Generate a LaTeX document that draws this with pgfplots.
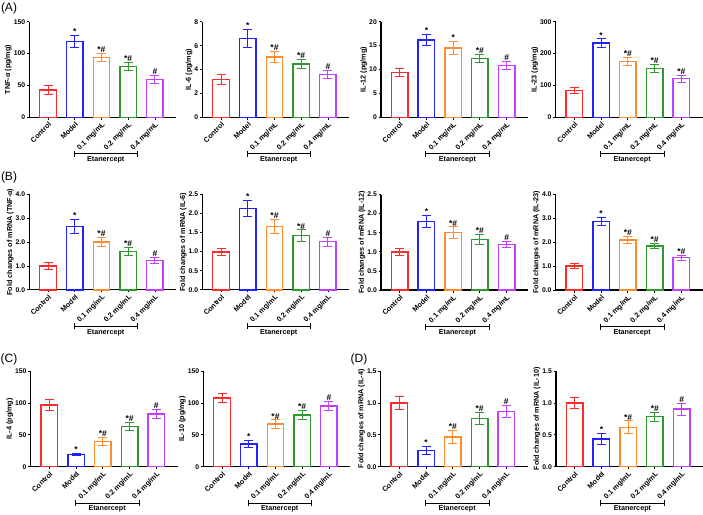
\documentclass[border=0pt]{standalone}
\usepackage{fontspec}
\setmainfont{Liberation Sans}
\usepackage{pgfplots}
\usepackage{pgfplotstable}
\pgfplotsset{compat=1.18}

\definecolor{c0}{HTML}{FF2B2B}
\definecolor{c1}{HTML}{2222FF}
\definecolor{c2}{HTML}{FF8C2E}
\definecolor{c3}{HTML}{2E9A2E}
\definecolor{c4}{HTML}{C040FF}

\newcommand\lab{\fontsize{7.2}{8}\selectfont\bfseries}
\newcommand\num{\fontsize{6.8}{8}\selectfont\bfseries}
\newcommand\sigfont{\fontsize{8.5}{9}\selectfont\bfseries}
% significance codes: N none, A *, B *#, C #
\newcommand\sigN{}
\newcommand\sigA{*}
\newcommand\sigB{*\#}
\newcommand\sigC{\#}

% columns: group, mean, error, significance
\pgfplotstableread{
x y e s
0 43 7 N
1 119 9.5 A
2 94 6 B
3 80 6.5 B
4 59 6.5 C
}\tnf
\pgfplotstableread{
x y e s
0 3.15 0.42 N
1 6.6 0.75 A
2 5.05 0.48 B
3 4.45 0.38 B
4 3.6 0.33 C
}\ilsix
\pgfplotstableread{
x y e s
0 9.4 0.8 N
1 16.2 1.1 A
2 14.5 1.4 A
3 12.35 0.9 B
4 10.9 0.85 C
}\iltwelve
\pgfplotstableread{
x y e s
0 84 10 N
1 233 13 A
2 175 13 B
3 154 12 B
4 121 11 B
}\iltwentythree
\pgfplotstableread{
x y e s
0 1.0 0.13 N
1 2.65 0.3 A
2 2.0 0.2 B
3 1.6 0.18 B
4 1.22 0.13 C
}\mtnf
\pgfplotstableread{
x y e s
0 0.99 0.09 N
1 2.13 0.22 A
2 1.66 0.19 B
3 1.42 0.15 B
4 1.26 0.12 C
}\msix
\pgfplotstableread{
x y e s
0 1.0 0.09 N
1 1.8 0.16 A
2 1.5 0.15 B
3 1.32 0.13 B
4 1.19 0.09 C
}\mtwelve
\pgfplotstableread{
x y e s
0 1.0 0.1 N
1 2.88 0.17 A
2 2.09 0.15 B
3 1.84 0.12 B
4 1.35 0.11 B
}\mtwentythree
\pgfplotstableread{
x y e s
0 97 8 N
1 19 1.5 A
2 40 6 B
3 63.5 6.5 B
4 83 7 C
}\ilfour
\pgfplotstableread{
x y e s
0 108 7 N
1 35.5 5.5 A
2 67 6.5 B
3 81 7 B
4 95.5 7 C
}\ilten
\pgfplotstableread{
x y e s
0 1.0 0.095 N
1 0.255 0.065 A
2 0.465 0.105 B
3 0.755 0.095 B
4 0.87 0.095 C
}\mfour
\pgfplotstableread{
x y e s
0 1.0 0.088 N
1 0.435 0.085 A
2 0.62 0.1 B
3 0.785 0.07 B
4 0.905 0.095 C
}\mten

\pgfplotsset{
  panel/.style={
    scale only axis, width=147pt, height=95.5pt, anchor=south west,
    xmin=-0.7, xmax=4.8, ymin=0,
    axis x line=bottom, axis y line=left,
    axis line style={-, line width=1.2pt},
    xtick={0,...,4},
    xticklabels={Control,Model,0.1 mg/mL,0.2 mg/mL,0.4 mg/mL},
    x tick label style={rotate=45, anchor=north east, inner sep=1pt, font=\lab},
    y tick label style={inner sep=1.5pt, font=\num},
    tick align=outside, major tick length=2.5pt,
    tick style={black, line width=0.8pt},
    label style={font=\lab},
    ylabel style={yshift=-3pt},
    /pgf/number format/assume math mode=true,
    scaled y ticks=false, clip=false,
  },
}

\newcommand\panel[7]{%
\begin{axis}[panel, at={(#1pt,-#2pt)}, ymax=#3, ytick distance=#4,
  ylabel={#5}, y tick label style={/pgf/number format/.cd, fixed, #7}]
\pgfplotsinvokeforeach{0,...,4}{
  \addplot[ybar, bar width=16.5pt, bar shift=0pt, draw=c##1, fill=white,
    line width=1.4pt,
    x filter/.expression={abs(x-##1)<0.3 ? x : nan},
    error bars/.cd, y dir=both, y explicit,
    error bar style={draw=c##1, line width=1pt},
    error mark options={rotate=90, mark size=4.5pt, line width=1pt, draw=c##1}]
    table[x=x, y=y, y error=e] {#6};
}
\addplot[only marks, mark=none, point meta=explicit symbolic,
  nodes near coords={\csname sig\pgfplotspointmeta\endcsname},
  nodes near coords style={anchor=south, inner sep=0.6pt, font=\sigfont}]
  table[x=x, y expr=\thisrow{y}+\thisrow{e}, meta=s] {#6};
\draw[line width=0.8pt] ([yshift=-36.5pt]axis cs:0.97,0) -- ([yshift=-36.5pt]axis cs:3.35,0);
\draw[line width=0.8pt] ([yshift=-33.5pt]axis cs:0.97,0) -- ([yshift=-39.5pt]axis cs:0.97,0);
\draw[line width=0.8pt] ([yshift=-33.5pt]axis cs:3.35,0) -- ([yshift=-39.5pt]axis cs:3.35,0);
\node[font=\lab, inner sep=0pt] at ([yshift=-42.5pt]axis cs:2.16,0) {Etanercept};
\end{axis}}

\begin{document}
\begin{tikzpicture}
\path[use as bounding box] (0,0) rectangle (703pt,-514pt);
\panel{29.3}{117.3}{150}{50}{TNF-α (pg/mg)}{\tnf}{precision=0}
\panel{202.3}{117.3}{8}{2}{IL-6 (pg/mg)}{\ilsix}{precision=0}
\panel{381}{117.3}{20}{5}{IL-12 (pg/mg)}{\iltwelve}{precision=0}
\panel{555.7}{117.3}{300}{100}{IL-23 (pg/mg)}{\iltwentythree}{precision=0}
\panel{29.3}{289.8}{4}{1}{Fold changes of mRNA (TNF-α)}{\mtnf}{fixed zerofill, precision=1}
\panel{202.3}{289.8}{2.5}{0.5}{Fold changes of mRNA (IL-6)}{\msix}{fixed zerofill, precision=1}
\panel{381}{290}{2.5}{0.5}{Fold changes of mRNA (IL-12)}{\mtwelve}{fixed zerofill, precision=1}
\panel{555.7}{290}{4}{1}{Fold changes of mRNA (IL-23)}{\mtwentythree}{fixed zerofill, precision=1}
\panel{30.7}{466.7}{150}{50}{IL-4 (pg/mg)}{\ilfour}{precision=0}
\panel{203.3}{466.7}{150}{50}{IL-10 (pg/mg)}{\ilten}{precision=0}
\panel{380.7}{466.7}{1.5}{0.5}{Fold changes of mRNA (IL-4)}{\mfour}{fixed zerofill, precision=1}
\panel{556}{466.7}{1.5}{0.5}{Fold changes of mRNA (IL-10)}{\mten}{fixed zerofill, precision=1}
\node[font=\fontsize{12}{14}\selectfont] at (9pt,-8.5pt) {(A)};
\node[font=\fontsize{12}{14}\selectfont] at (9pt,-177.8pt) {(B)};
\node[font=\fontsize{12}{14}\selectfont] at (9pt,-359pt) {(C)};
\node[font=\fontsize{12}{14}\selectfont] at (359pt,-359pt) {(D)};
\end{tikzpicture}
\end{document}
